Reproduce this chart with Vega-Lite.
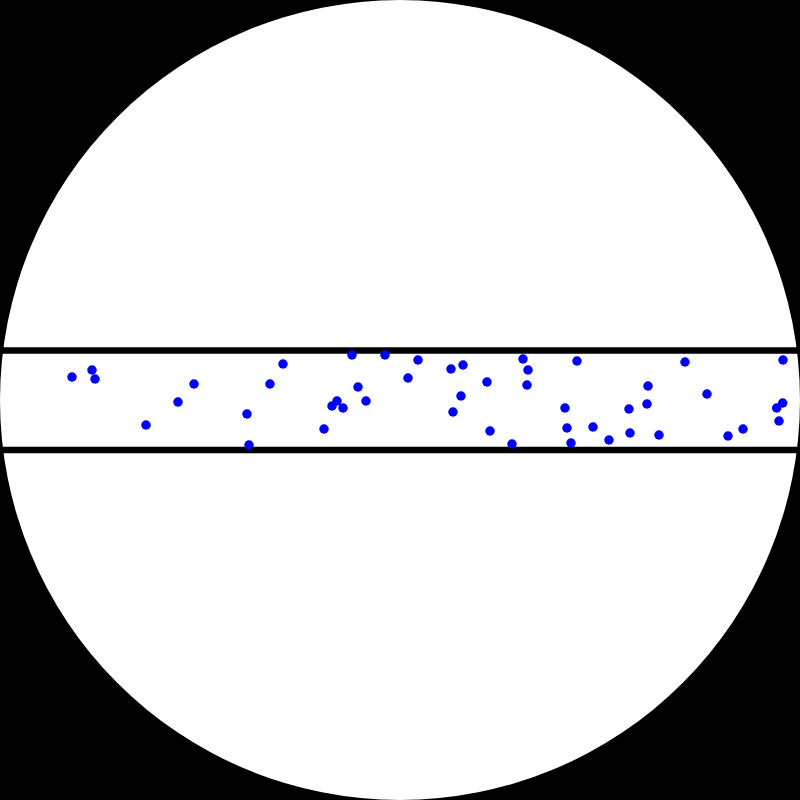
{
  "$schema": "https://vega.github.io/schema/vega-lite/v6.json",
  "width": 800,
  "height": 800,
  "autosize": {"type": "none"},
  "padding": 0,
  "background": "black",
  "config": {"view": {"stroke": null}},
  "datasets": {
    "points": [
      {"x": -0.82, "y": 0.0575}, {"x": -0.77, "y": 0.075}, {"x": -0.7625, "y": 0.0525},
      {"x": -0.635, "y": -0.0625}, {"x": -0.555, "y": -0.005}, {"x": -0.515, "y": 0.04},
      {"x": -0.3825, "y": -0.035}, {"x": -0.3775, "y": -0.1125}, {"x": -0.325, "y": 0.04},
      {"x": -0.2925, "y": 0.09}, {"x": -0.19, "y": -0.0725}, {"x": -0.17, "y": -0.015},
      {"x": -0.1575, "y": -0.0025}, {"x": -0.1425, "y": -0.02}, {"x": -0.12, "y": 0.1125},
      {"x": -0.105, "y": 0.0325}, {"x": -0.085, "y": -0.0025}, {"x": -0.0375, "y": 0.1125},
      {"x": 0.02, "y": 0.055}, {"x": 0.045, "y": 0.1}, {"x": 0.1275, "y": 0.0775},
      {"x": 0.1325, "y": -0.03}, {"x": 0.1525, "y": 0.01}, {"x": 0.1575, "y": 0.0875},
      {"x": 0.2175, "y": 0.045}, {"x": 0.225, "y": -0.0775}, {"x": 0.28, "y": -0.11},
      {"x": 0.3075, "y": 0.1025}, {"x": 0.32, "y": 0.075}, {"x": 0.3175, "y": 0.0375},
      {"x": 0.4125, "y": -0.02}, {"x": 0.4175, "y": -0.07}, {"x": 0.4275, "y": -0.1075},
      {"x": 0.4425, "y": 0.0975}, {"x": 0.4825, "y": -0.0675}, {"x": 0.5225, "y": -0.1},
      {"x": 0.5725, "y": -0.0225}, {"x": 0.575, "y": -0.0825}, {"x": 0.6175, "y": -0.01},
      {"x": 0.62, "y": 0.035}, {"x": 0.6475, "y": -0.0875}, {"x": 0.7125, "y": 0.095},
      {"x": 0.7675, "y": 0.015}, {"x": 0.82, "y": -0.09}, {"x": 0.8575, "y": -0.0725},
      {"x": 0.9417, "y": -0.02}, {"x": 0.9567, "y": -0.0075}, {"x": 0.9475, "y": -0.0525},
      {"x": 0.9575, "y": 0.1}
    ],
    "lines": [{"y": 0.124}, {"y": -0.125}],
    "disk": [{"x": 0, "y": 0}]
  },
  "layer": [
    {
      "data": {"name": "disk"},
      "mark": {"type": "point", "shape": "circle", "filled": true, "color": "white", "opacity": 1, "size": 640000},
      "encoding": {
        "x": {"field": "x", "type": "quantitative", "scale": {"domain": [-1, 1], "nice": false, "zero": false}, "axis": null},
        "y": {"field": "y", "type": "quantitative", "scale": {"domain": [-1, 1], "nice": false, "zero": false}, "axis": null}
      }
    },
    {
      "data": {"name": "lines"},
      "mark": {"type": "rule", "color": "black", "strokeWidth": 6.5},
      "encoding": {
        "y": {"field": "y", "type": "quantitative"}
      }
    },
    {
      "data": {"name": "points"},
      "mark": {"type": "point", "shape": "circle", "filled": true, "color": "#0000ff", "opacity": 1, "size": 90},
      "encoding": {
        "x": {"field": "x", "type": "quantitative"},
        "y": {"field": "y", "type": "quantitative"}
      }
    }
  ]
}
